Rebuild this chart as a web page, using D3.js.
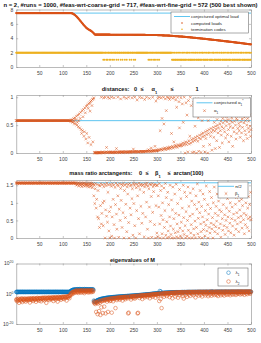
<!DOCTYPE html>
<html>
<head>
<meta charset="utf-8">
<script src="https://cdn.jsdelivr.net/npm/d3@7"></script>
<style>
  body { margin: 0; background: #fff; }
  svg text { font-family: "Liberation Sans", Arial, Helvetica, sans-serif; }
</style>
</head>
<body>
<script>
// ---- data (run index 1..500) ----
var runs = d3.range(1, 501);
var xTicks = [50, 100, 150, 200, 250, 300, 350, 400, 450, 500];

var optimalLoad = 7.5;
// computed loads, x100
var loadsX100 = [
750,750,750,750,750,750,750,750,750,750,750,750,750,750,750,750,750,750,750,750,750,750,750,750,750,
750,750,750,750,750,750,750,750,750,750,750,750,750,750,750,750,750,750,750,750,750,750,750,750,750,
750,750,750,750,750,750,750,750,750,750,750,750,750,750,750,750,750,750,750,750,750,750,750,750,750,
750,750,750,750,750,750,750,750,750,750,750,750,750,750,750,750,750,750,750,750,750,750,750,750,750,
750,750,750,750,750,750,750,750,750,750,750,750,750,750,750,750,750,750,748,746,743,740,736,732,728,
722,716,710,704,698,690,683,676,668,660,652,644,636,628,620,612,604,596,588,580,573,566,559,552,545,
540,535,530,526,522,518,514,510,506,502,498,493,487,481,475,468,460,452,450,450,450,450,450,450,450,
450,450,450,450,450,450,450,450,450,450,450,450,450,450,450,450,450,450,450,450,450,450,450,450,450,
449,449,449,449,449,449,449,449,449,449,449,449,449,449,449,449,449,449,449,449,449,449,449,449,449,
448,448,448,448,448,448,448,448,448,448,448,448,448,448,448,448,448,448,448,448,448,448,448,448,448,
447,447,447,447,447,447,447,447,447,447,447,447,447,447,447,447,447,447,447,447,447,447,447,447,447,
446,446,446,446,446,446,446,446,446,446,446,446,446,446,446,446,446,446,446,446,446,446,446,446,446,
444,444,443,443,443,442,442,442,441,441,441,440,440,440,440,439,439,439,439,438,438,438,437,437,437,
436,436,435,435,434,434,433,433,432,432,431,431,430,430,429,429,428,428,427,427,426,426,425,425,425,
424,424,423,422,422,421,421,420,419,419,418,418,417,416,416,415,415,414,413,413,412,412,411,410,410,
409,408,408,407,406,406,405,404,403,403,402,401,401,400,399,399,398,397,397,396,395,395,394,393,393,
392,391,391,390,389,388,388,387,386,385,385,384,383,382,381,381,380,379,378,378,377,376,376,375,375,
374,373,372,372,371,370,369,368,368,367,366,365,364,364,363,362,361,360,360,359,358,357,357,356,356,
355,354,353,352,352,351,350,349,348,347,347,346,345,344,343,342,342,341,340,339,338,338,337,336,336,
335,334,333,332,331,331,330,329,328,327,326,325,324,324,323,322,321,320,319,318,318,317,316,315,315
];

var terminationCode = [
2,2,2,2,2,2,2,2,2,2,2,2,2,2,2,2,2,2,2,2,2,2,2,2,2,
2,2,2,2,2,2,2,2,2,2,2,2,2,2,2,2,2,2,2,2,2,2,2,2,2,
2,2,2,2,2,2,2,2,2,2,2,2,2,2,2,2,2,2,2,2,2,2,2,2,2,
2,2,2,2,2,2,2,2,2,2,2,2,2,2,2,2,2,2,2,2,2,2,2,2,2,
2,2,2,2,2,2,2,2,2,2,2,2,2,2,2,2,2,2,2,2,2,2,2,2,2,
2,2,2,2,2,2,2,2,2,2,2,2,2,2,2,2,2,2,2,2,2,2,2,2,2,
2,2,2,2,2,2,2,2,2,2,2,2,2,2,2,2,2,2,2,2,2,2,2,2,2,
2,2,2,2,2,2,2,2,2,2,1,2,2,1,2,2,2,1,2,1,2,2,2,1,2,
2,1,2,2,2,1,2,2,1,2,2,2,2,1,2,2,2,1,2,2,2,2,1,2,2,
2,1,2,2,2,2,1,2,2,2,1,2,2,2,2,2,1,2,2,2,1,2,2,2,2,
1,2,2,1,2,2,2,2,2,2,2,2,2,2,2,2,2,2,2,2,2,2,2,2,2,
2,2,2,2,2,2,1,2,2,1,2,2,1,2,2,2,1,2,2,1,2,2,1,2,2,
2,1,2,2,1,2,2,2,2,2,2,2,2,2,2,2,2,2,2,2,2,2,2,2,2,
2,2,2,2,2,2,1,2,1,1,2,1,2,1,1,2,1,2,1,1,2,1,2,1,1,
2,1,1,2,1,2,1,1,2,1,1,2,1,2,2,1,1,2,1,2,1,1,2,1,1,
2,1,2,1,1,2,2,1,1,2,1,2,1,1,2,1,2,1,1,2,1,2,2,1,1,
2,1,1,2,1,2,1,1,2,2,1,2,1,1,2,1,1,2,1,2,2,1,1,2,1,
1,2,1,2,1,1,2,1,2,1,1,2,2,1,1,2,1,2,1,1,2,1,1,2,1,
2,1,2,1,1,2,1,2,2,1,1,2,1,2,1,1,2,1,2,1,1,2,1,2,1,
1,2,1,2,2,1,1,2,1,2,1,1,2,1,2,1,2,1,1,2,1,2,1,1,2
];

var alphaStar = 0.58;
// alpha_1, x100
var alpha1X100 = [
58,58,58,58,58,58,58,58,58,58,58,58,58,58,58,58,58,58,58,58,58,58,58,58,58,
58,58,58,58,58,58,58,58,58,58,58,58,58,58,58,58,58,58,58,58,58,58,58,58,58,
58,58,58,58,58,58,58,58,58,58,58,58,58,58,58,58,58,58,58,58,58,58,58,58,58,
58,58,58,58,58,58,58,58,58,58,58,58,58,58,58,58,58,58,58,58,58,58,58,58,58,
58,58,58,58,58,58,58,58,58,58,58,58,58,58,58,58,57,59,56,60,55,58,62,53,57,
63,52,60,66,50,55,68,47,58,70,45,62,73,42,35,76,40,65,78,30,38,81,72,25,84,
35,86,18,80,88,28,90,75,92,15,94,85,96,20,97,99,1,0,1,0,1,0,1,0,1,
1,0,1,1,0,1,100,1,2,1,0,99,1,1,100,1,2,10,1,1,100,1,2,98,1,
1,2,1,100,1,1,2,1,99,1,2,1,1,8,2,1,100,2,1,2,1,2,97,2,1,
2,2,1,2,100,2,1,2,2,98,2,1,2,2,100,2,2,1,3,2,2,99,2,2,7,
2,3,100,2,2,3,2,95,2,3,2,2,100,3,2,3,3,99,2,3,3,2,3,96,3,
3,3,100,3,4,3,6,3,98,4,3,3,9,4,3,100,4,5,3,4,12,4,93,5,4,
5,98,4,6,100,5,40,7,99,6,62,5,8,100,52,7,9,97,6,76,8,100,10,7,99,
9,96,11,8,100,35,10,12,98,9,20,100,11,14,95,12,82,10,100,15,13,92,45,12,14,
99,16,13,88,18,55,14,100,17,0,20,90,15,68,19,2,94,22,16,30,100,18,85,24,1,
20,26,91,2,22,48,28,24,0,97,30,21,63,3,27,32,86,25,1,34,58,29,36,12,80,
31,2,38,26,70,33,40,0,58,35,42,15,92,30,44,37,5,66,41,46,28,55,39,8,48,
43,22,60,50,36,45,75,10,52,40,57,32,47,18,62,54,44,85,38,58,27,49,65,56,33,
60,42,20,52,70,47,58,30,63,55,12,45,68,38,57,80,50,25,62,35,59,44,72,53,40,
48,28,66,56,36,61,46,78,22,54,64,40,58,33,70,50,26,62,44,57,38,68,48,30,42
];

// beta_1, x100
var beta1X100 = [
156,157,155,156,157,156,157,155,156,157,156,157,155,156,157,156,157,155,156,157,156,157,155,156,157,
156,157,155,156,157,156,157,155,156,157,156,157,155,156,157,156,157,155,156,157,156,157,155,156,157,
156,157,155,156,157,156,157,155,156,157,156,157,155,156,157,156,157,155,156,157,156,157,155,156,157,
156,157,155,156,157,156,157,155,156,157,156,157,155,156,157,156,157,155,156,157,156,157,155,156,157,
156,157,155,156,157,156,157,155,156,157,156,157,155,156,157,156,157,155,156,157,156,157,155,156,157,
156,155,157,150,156,152,155,157,148,156,153,155,150,157,146,155,152,156,149,155,157,147,154,151,156,
153,148,156,150,145,155,152,157,146,154,149,156,143,152,155,120,150,98,140,155,85,110,152,60,135,
55,150,30,148,92,155,40,70,152,100,35,146,105,154,0,80,149,62,156,45,130,151,20,75,0,
153,88,147,5,60,155,110,150,38,0,144,95,156,68,25,152,120,148,2,82,155,50,141,107,153,
30,149,72,156,0,135,150,58,96,154,18,145,125,152,44,0,155,85,148,66,151,112,140,8,156,
98,150,35,155,0,143,78,153,120,147,55,156,12,138,150,90,154,42,149,70,152,130,3,145,155,
60,150,102,156,25,148,0,140,88,154,47,151,118,2,155,73,146,132,150,38,153,0,92,149,14,
150,4,120,88,155,40,0,135,64,148,12,100,52,0,142,30,78,155,8,115,46,0,130,20,95,
2,60,150,34,10,108,0,80,145,25,55,0,125,15,70,153,3,40,98,18,0,65,138,28,6,
112,45,0,85,20,150,58,10,130,35,0,75,118,5,50,145,22,90,0,62,128,14,38,105,0,
68,140,26,8,95,48,0,120,30,82,154,12,56,102,2,72,135,40,18,90,0,60,125,24,45,
110,6,78,36,148,20,52,95,0,68,30,132,14,84,42,115,26,58,0,100,38,145,18,70,32,
90,48,125,12,64,105,28,80,140,40,2,75,118,55,22,95,150,35,66,10,128,50,85,30,112,
60,20,138,76,42,100,15,130,55,88,34,120,68,8,145,50,96,25,115,72,40,155,58,18,105,
80,135,45,62,110,28,92,150,52,70,12,125,38,100,65,142,30,85,55,118,20,95,60,130,52
];

// eigenvalues of M, as log10
var lambda1Log10 = [
1.2,1.1,1.3,1.2,1.2,1.2,1.1,1.3,1.2,1.2,1.2,1.1,1.3,1.2,1.2,1.2,1.1,1.3,1.2,1.2,1.2,1.1,1.3,1.2,1.2,
1.2,1.1,1.3,1.2,1.2,1.2,1.1,1.3,1.2,1.2,1.2,1.1,1.3,1.2,1.2,1.2,1.1,1.3,1.2,1.2,1.2,1.1,1.3,1.2,1.2,
1.2,1.1,1.3,1.2,1.2,1.2,1.1,1.3,1.2,1.2,1.2,1.1,1.3,1.2,1.2,1.2,1.1,1.3,1.2,1.2,1.2,1.1,1.3,1.2,1.2,
1.2,1.1,1.3,1.2,1.2,1.2,1.1,1.3,1.2,1.2,1.2,1.1,1.3,1.2,1.2,1.2,1.1,1.3,1.2,1.2,1.2,1.1,1.3,1.2,1.2,
1.2,1.2,1.2,1.2,1.2,1.2,1.2,1.2,1.2,1.2,1.2,1.2,1.2,1.2,1.2,1.5,1.8,2.0,2.2,2.4,2.5,2.6,2.7,2.6,2.8,
2.7,2.9,2.8,2.6,2.9,3.0,2.8,2.7,2.9,3.1,2.8,2.6,3.0,2.9,2.7,2.8,3.0,2.9,2.6,2.8,3.1,2.9,2.7,2.8,3.0,
2.8,2.9,2.7,3.0,2.8,2.6,2.9,3.0,2.7,2.8,2.9,2.6,2.8,3.0,2.7,-4.5,-5.0,-5.5,-5.2,-5.0,-4.8,-4.6,-4.5,-4.3,-4.2,
-4.0,-3.9,-3.8,-3.7,-3.6,-3.5,-3.4,-3.4,-3.3,-3.2,-3.2,-3.1,-3.0,-3.0,-2.9,-2.9,-2.8,-2.8,-2.7,-2.7,-2.6,-2.6,-2.6,-2.5,-2.5,
-2.5,-2.4,-2.4,-2.4,-2.3,-2.3,-2.3,-2.2,-2.2,-2.2,-2.2,-2.1,-2.1,-2.1,-2.1,-2.0,-2.0,-2.0,-2.0,-1.9,-1.9,-1.9,-1.9,-1.8,-1.8,
-1.8,-1.8,-1.7,-1.7,-1.7,-1.7,-1.6,-1.6,-1.6,-1.6,-1.6,-1.5,-1.5,-1.5,-1.5,-1.5,-1.4,-1.4,-1.4,-1.4,-1.4,-1.3,-1.3,-1.3,-1.3,
-1.3,-1.2,-1.2,-1.2,-1.1,-1.1,-1.1,-1.0,-1.0,-1.0,-1.0,-0.9,-0.9,-0.9,-0.9,-0.8,-0.8,-0.8,-0.8,-0.7,-0.7,-0.7,-0.7,-0.6,-0.6,
-0.6,-0.5,-0.5,-0.5,-0.4,-0.4,-0.4,-0.3,-0.3,-0.3,-0.2,-0.2,-0.2,-0.1,-0.1,-0.1,0,0,0,0.1,0.1,0.1,0.2,0.2,0.2,
0.2,0.3,0.3,0.3,0.4,1.8,0.4,1.6,0.4,0.5,0.5,0.5,0.5,0.5,0.6,0.6,0.6,0.6,0.6,0.7,0.7,0.7,0.7,0.7,0.7,
0.8,0.8,0.8,0.8,0.8,0.8,0.9,0.9,0.9,0.9,0.9,0.9,0.9,0.9,1.0,1.0,1.0,1.0,1.0,1.0,1.0,1.0,1.0,1.0,1.0,
1.0,1.1,1.0,1.1,1.1,1.0,1.1,1.1,1.1,1.0,1.1,1.1,1.1,1.1,1.1,1.2,1.1,1.1,1.1,1.2,1.1,1.1,1.2,1.1,1.1,
1.1,1.2,1.1,1.2,1.1,1.2,1.2,1.1,1.2,1.2,1.1,1.2,1.2,1.2,1.1,1.2,1.2,1.2,1.2,1.1,1.2,1.2,1.2,1.2,1.2,
1.2,1.2,1.2,1.2,1.2,1.2,1.2,1.2,1.2,1.2,1.2,1.2,1.2,1.2,1.2,1.2,1.6,1.2,1.2,1.2,1.2,1.2,1.2,1.2,1.2,
1.2,1.3,1.2,1.3,1.3,1.2,1.3,1.2,1.3,1.3,1.2,1.3,1.2,1.3,1.3,1.2,1.3,1.2,1.3,1.3,1.2,1.3,1.2,1.3,1.3,
1.2,1.3,1.2,1.3,1.3,1.2,1.3,1.2,1.3,1.3,1.2,1.3,1.2,1.3,1.3,1.2,1.3,1.2,1.3,1.3,1.2,1.3,1.2,1.3,1.3,
1.2,1.3,1.2,1.3,1.3,1.2,1.3,1.2,1.3,1.3,1.2,1.3,1.2,1.3,1.3,1.2,1.3,1.2,1.3,1.3,1.2,1.3,1.2,1.3,1.3
];
var lambda2Log10 = [
-4.2,-3.5,-5.0,-3.8,-4.5,-3.2,-6.0,-3.9,-4.1,-3.4,-4.8,-3.6,-3.0,-5.5,-3.8,-4.0,-3.3,-4.6,-3.7,-3.1,-5.2,-3.9,-3.5,-4.3,-3.2,
-3.6,-4.4,-3.0,-3.8,-5.8,-3.3,-3.9,-2.9,-4.2,-3.5,-3.1,-4.8,-3.4,-2.8,-3.7,-4.0,-3.2,-5.3,-3.0,-3.5,-2.7,-4.1,-3.3,-3.0,-4.6,
-3.1,-2.8,-3.6,-5.0,-2.9,-3.3,-2.6,-3.9,-3.0,-2.7,-4.4,-3.2,-2.5,-3.5,-6.0,-2.8,-3.1,-2.6,-3.8,-2.9,-2.4,-4.2,-3.0,-2.7,-3.3,
-2.5,-3.6,-2.8,-2.3,-4.8,-2.9,-2.6,-3.2,-2.2,-3.9,-2.7,-2.4,-3.0,-5.2,-2.5,-2.1,-3.4,-2.6,-2.3,-2.9,-4.0,-2.2,-2.7,-2.0,-3.1,
-2.3,-1.9,-3.5,-2.4,-2.0,-2.8,-1.8,-4.5,-2.1,-1.7,-2.6,-1.8,-1.5,-3.0,-1.6,-0.8,0.2,-0.5,0.5,1.0,-0.2,1.2,0.8,1.5,0.6,
1.8,1.2,2.2,0.9,1.6,2.4,1.3,0.5,2.0,1.7,1.1,2.3,1.9,0.7,2.1,1.5,2.5,1.0,1.8,2.2,0.4,1.6,2.0,1.3,2.4,
1.9,1.1,2.3,1.7,0.8,2.1,1.4,2.5,1.8,1.0,2.2,1.6,2.4,1.2,2.0,-5.5,-6.2,-5.0,-6.8,-5.8,-12.0,-6.0,-5.4,-13.5,-6.5,
-5.2,-11.5,-4.8,-6.0,-14.0,-4.5,-9.0,-5.0,-4.2,-12.8,-4.6,-3.9,-8.5,-4.4,-3.8,-13.0,-4.1,-3.6,-5.2,-3.5,-12.0,-4.0,-3.3,-3.7,-4.8,
-3.2,-4.5,-3.0,-12.5,-3.4,-2.9,-5.0,-3.1,-2.8,-3.6,-2.7,-9.5,-3.0,-2.6,-4.2,-2.8,-2.5,-3.3,-2.7,-2.4,-3.9,-2.6,-2.3,-3.0,-2.5,
-2.2,-4.5,-2.4,-2.1,-2.9,-2.3,-2.0,-3.6,-2.2,-2.6,-1.9,-2.1,-3.0,-13.0,-12.5,-2.0,-1.8,-2.5,-1.9,-3.8,-1.7,-2.2,-1.8,-1.6,-2.8,
-1.7,-1.5,-3.2,-1.8,-1.4,-2.4,-1.6,-1.3,-13.0,-12.6,-1.5,-1.2,-2.8,-1.4,-1.1,-1.9,-1.3,-1.0,-3.5,-1.2,-0.9,-1.6,-1.1,-2.4,-0.9,
-0.8,-1.4,-1.0,-0.7,-2.2,-0.9,-0.6,-1.2,-0.8,-3.0,-0.5,-0.7,-1.5,-0.6,-0.4,-2.0,-0.5,-0.3,-1.0,-0.4,-0.2,-2.6,-0.3,-0.1,-0.8,
-0.2,-1.5,0.0,-0.3,-4.8,0.1,-0.4,-3.5,0.2,-9.5,0.0,-1.0,0.3,0.1,-2.0,0.4,0.2,-0.6,0.4,0.3,-1.5,0.5,0.3,-0.4,0.5,
0.4,-2.2,0.6,0.5,-0.8,0.6,0.7,-3.0,0.5,0.7,-0.2,0.8,0.6,-1.8,0.8,0.7,-0.5,0.9,0.8,-2.6,0.9,0.8,-1.0,0.9,1.0,
0.9,-0.3,1.0,0.9,-1.6,1.0,-3.2,1.1,0.2,1.0,-0.8,1.1,1.0,-2.0,1.1,0.5,1.1,-0.6,1.2,1.0,-1.4,1.1,0.7,1.2,-0.2,
1.1,1.2,-1.0,1.1,0.4,1.2,-2.4,1.2,1.0,-0.4,1.2,0.8,1.3,-1.2,1.2,0.3,1.3,-0.7,1.2,1.1,-1.8,1.3,0.6,1.2,-0.1,
1.3,0.9,-1.1,1.2,1.3,-0.3,1.3,0.5,-1.6,1.3,1.1,-0.6,1.3,1.4,0.2,-1.3,1.3,1.0,-0.2,1.4,0.7,-0.9,1.3,1.2,0.0,
1.4,-0.8,1.3,0.6,-1.5,1.4,1.1,-0.1,1.4,0.8,-1.0,1.4,1.3,0.3,-0.5,1.4,1.0,-1.2,1.4,0.6,1.5,-0.4,1.3,0.9,-0.7,
1.5,1.1,-0.2,1.4,0.7,-1.0,1.5,1.2,0.1,1.4,-0.6,1.5,0.9,1.3,-0.3,1.5,1.0,-0.8,1.5,0.5,1.4,-0.1,1.5,1.2,0.3,
1.5,-0.5,1.4,0.8,1.5,-0.2,1.5,1.1,0.4,1.5,-0.7,1.4,1.0,1.5,0.2,1.5,-0.3,1.4,0.9,1.5,0.6,1.5,-0.1,1.4,1.2
];

// ---- colours / layout ----
var orange = "#D95319", blue = "#0072BD", yellow = "#EDB120", cyan = "#4DBEEE";
var axisCol = "#8c8c8c", textCol = "#404040";
var xLeft = 16.2, xRight = 251;

var svg = d3.select("body").append("svg")
  .attr("width", 261).attr("height", 343);

var x = d3.scaleLinear().domain([1, 500]).range([xLeft, xRight]);

var y1 = d3.scaleLinear().domain([0, 8]).range([67, 9.5]);
var y2 = d3.scaleLinear().domain([0, 1.04]).range([153, 95]);
var y3 = d3.scaleLinear().domain([0, 1.65]).range([238, 180]);
var y4 = d3.scaleLog().domain([1e-20, 1e20]).range([324, 263.5]);

function drawAxes(y, yTicks, yFmt) {
  var r = y.range();
  var g = svg.append("g");
  g.append("rect").attr("x", xLeft).attr("y", r[1])
    .attr("width", xRight - xLeft).attr("height", r[0] - r[1]).attr("fill", "#fff");
  g.append("g").attr("transform", "translate(0," + r[0] + ")")
    .call(d3.axisBottom(x).tickValues(xTicks).tickSizeInner(-2).tickSizeOuter(0).tickPadding(4.2));
  g.append("g").attr("transform", "translate(0," + r[1] + ")")
    .call(d3.axisTop(x).tickValues(xTicks).tickSizeInner(-2).tickSizeOuter(0).tickFormat(""));
  g.append("g").attr("transform", "translate(" + xLeft + ",0)")
    .call(d3.axisLeft(y).tickValues(yTicks).tickSizeInner(-2).tickSizeOuter(0).tickPadding(3).tickFormat(yFmt));
  g.append("g").attr("transform", "translate(" + xRight + ",0)")
    .call(d3.axisRight(y).tickValues(yTicks).tickSizeInner(-2).tickSizeOuter(0).tickFormat(""));
  g.selectAll("g").attr("font-family", null).attr("font-size", null);
  g.selectAll(".domain").attr("stroke", axisCol).attr("stroke-width", 0.6);
  g.selectAll(".tick line").attr("stroke", axisCol).attr("stroke-width", 0.5);
  g.selectAll(".tick text").attr("fill", textCol).attr("font-size", 5);
  return g;
}

var xMark = "M-1.3,-1.3L1.3,1.3M-1.3,1.3L1.3,-1.3";

// label pieces: [text, "sub" | "sup" | ""]
function richText(sel, parts, size) {
  parts.forEach(function (p) {
    var t = sel.append("tspan").text(p[0]);
    if (p[1] === "sub") t.attr("font-size", size * 0.7).attr("baseline-shift", "sub");
    if (p[1] === "sup") t.attr("font-size", size * 0.7).attr("baseline-shift", "super");
  });
}

function legend(lx, ly, w, h, items) {
  var g = svg.append("g");
  g.append("rect").attr("x", lx).attr("y", ly).attr("width", w).attr("height", h)
    .attr("fill", "#fff").attr("stroke", "#555").attr("stroke-width", 0.5);
  items.forEach(function (it) {
    if (it.kind === "line") {
      g.append("line").attr("x1", it.sx - 8).attr("x2", it.sx + 8).attr("y1", it.y).attr("y2", it.y)
        .attr("stroke", it.color).attr("stroke-width", 0.9);
    } else if (it.kind === "dot") {
      g.append("circle").attr("cx", it.sx).attr("cy", it.y).attr("r", 0.8).attr("fill", it.color);
    } else if (it.kind === "x") {
      g.append("path").attr("d", xMark).attr("transform", "translate(" + it.sx + "," + it.y + ")")
        .attr("stroke", it.color).attr("stroke-width", 0.5).attr("fill", "none");
    } else if (it.kind === "o") {
      g.append("circle").attr("cx", it.sx).attr("cy", it.y).attr("r", 1.8)
        .attr("fill", "none").attr("stroke", it.color).attr("stroke-width", 0.5);
    }
    var t = g.append("text").attr("x", it.tx).attr("y", it.y + 1.5)
      .attr("font-size", 4.4).attr("fill", "#262626");
    richText(t, it.label, 4.4);
  });
}

// ---- panel 1: loads ----
drawAxes(y1, [0, 2, 4, 6, 8], d3.format("d"));
svg.append("line").attr("x1", x(1)).attr("x2", x(500))
  .attr("y1", y1(optimalLoad)).attr("y2", y1(optimalLoad))
  .attr("stroke", cyan).attr("stroke-width", 0.9);
svg.append("g").selectAll("circle").data(loadsX100).enter().append("circle")
  .attr("cx", function (d, i) { return x(runs[i]); })
  .attr("cy", function (d) { return y1(d / 100); })
  .attr("r", 1.05).attr("fill", orange);
svg.append("g").selectAll("circle").data(terminationCode).enter().append("circle")
  .attr("cx", function (d, i) { return x(runs[i]); })
  .attr("cy", function (d) { return y1(d); })
  .attr("r", 0.95).attr("fill", yellow);
svg.append("text").attr("x", 130.5).attr("y", 7).attr("text-anchor", "middle")
  .attr("font-size", 5.6).attr("font-weight", "bold").attr("fill", "#111")
  .attr("textLength", 254).attr("lengthAdjust", "spacingAndGlyphs")
  .text("n = 2, #runs = 1000, #feas-wrt-coarse-grid = 717, #feas-wrt-fine-grid = 572 (500 best shown)");
legend(171, 12, 77.5, 21, [
  { kind: "line", color: cyan, sx: 182, tx: 191, y: 16.5, label: [["conjectured optimal load", ""]] },
  { kind: "dot", color: orange, sx: 182, tx: 191, y: 23, label: [["computed loads", ""]] },
  { kind: "dot", color: yellow, sx: 182, tx: 191, y: 29.3, label: [["termination codes", ""]] }
]);

// ---- panel 2: alpha_1 ----
drawAxes(y2, [0, 0.5, 1], function (d) { return d === 0.5 ? "0.5" : d3.format("d")(d); });
svg.append("line").attr("x1", x(1)).attr("x2", x(500))
  .attr("y1", y2(alphaStar)).attr("y2", y2(alphaStar))
  .attr("stroke", cyan).attr("stroke-width", 0.9);
svg.append("g").selectAll("path").data(alpha1X100).enter().append("path")
  .attr("d", xMark)
  .attr("transform", function (d, i) { return "translate(" + x(runs[i]) + "," + y2(d / 100) + ")"; })
  .attr("stroke", orange).attr("stroke-width", 0.5).attr("fill", "none");
var t2 = svg.append("text").attr("y", 90.5).attr("font-size", 5.6).attr("font-weight", "bold").attr("fill", "#111");
t2.append("tspan").attr("x", 101.7).text("distances:");
t2.append("tspan").attr("x", 134).text("0");
t2.append("tspan").attr("x", 140.5).text("≤");
t2.append("tspan").attr("x", 151.5).text("α");
t2.append("tspan").attr("font-size", 4).attr("baseline-shift", "sub").text("1");
t2.append("tspan").attr("x", 170.5).text("≤");
t2.append("tspan").attr("x", 195.5).text("1");
legend(193, 98, 57.5, 19, [
  { kind: "line", color: cyan, sx: 204.5, tx: 214, y: 102.8, label: [["conjectured α", ""], ["1", "sub"], ["*", "sup"]] },
  { kind: "x", color: orange, sx: 204.5, tx: 214, y: 110.7, label: [["α", ""], ["1", "sub"]] }
]);

// ---- panel 3: beta_1 ----
drawAxes(y3, [0, 0.5, 1, 1.5], function (d) { return d % 1 ? d3.format(".1f")(d) : d3.format("d")(d); });
svg.append("line").attr("x1", x(1)).attr("x2", x(500))
  .attr("y1", y3(Math.PI / 2)).attr("y2", y3(Math.PI / 2))
  .attr("stroke", cyan).attr("stroke-width", 0.9);
svg.append("g").selectAll("path").data(beta1X100).enter().append("path")
  .attr("d", xMark)
  .attr("transform", function (d, i) { return "translate(" + x(runs[i]) + "," + y3(d / 100) + ")"; })
  .attr("stroke", orange).attr("stroke-width", 0.5).attr("fill", "none");
var t3 = svg.append("text").attr("y", 174.5).attr("font-size", 5.6).attr("font-weight", "bold").attr("fill", "#111");
t3.append("tspan").attr("x", 69.3).text("mass ratio arctangents:");
t3.append("tspan").attr("x", 139).text("0");
t3.append("tspan").attr("x", 145.5).text("≤");
t3.append("tspan").attr("x", 155).text("β");
t3.append("tspan").attr("font-size", 4).attr("baseline-shift", "sub").text("1");
t3.append("tspan").attr("x", 167.5).text("≤");
t3.append("tspan").attr("x", 173.5).text("arctan(100)");
legend(218, 182, 30, 16, [
  { kind: "line", color: cyan, sx: 226, tx: 235, y: 186.3, label: [["π/2", ""]] },
  { kind: "x", color: orange, sx: 226, tx: 235, y: 193.6, label: [["β", ""], ["1", "sub"]] }
]);

// ---- panel 4: eigenvalues ----
var g4 = drawAxes(y4, [1e-20, 1, 1e20], function () { return ""; });
g4.selectAll(".ylab").data([-20, 0, 20]).enter().append("text")
  .attr("class", "ylab").attr("x", 13.5).attr("y", function (e) { return y4(Math.pow(10, e)) + 1.8; })
  .attr("text-anchor", "end").attr("font-size", 5).attr("fill", textCol)
  .each(function (e) {
    var t = d3.select(this);
    t.append("tspan").text("10");
    t.append("tspan").attr("font-size", 3.5).attr("dy", -2).text(e);
  });
svg.append("g").selectAll("circle").data(lambda1Log10).enter().append("circle")
  .attr("cx", function (d, i) { return x(runs[i]); })
  .attr("cy", function (d) { return y4(Math.pow(10, d)); })
  .attr("r", 1.8).attr("fill", "none").attr("stroke", blue).attr("stroke-width", 0.5);
svg.append("g").selectAll("circle").data(lambda2Log10).enter().append("circle")
  .attr("cx", function (d, i) { return x(runs[i]); })
  .attr("cy", function (d) { return y4(Math.pow(10, d)); })
  .attr("r", 1.8).attr("fill", "none").attr("stroke", orange).attr("stroke-width", 0.5);
svg.append("text").attr("x", 132.5).attr("y", 262).attr("text-anchor", "middle")
  .attr("font-size", 5.6).attr("font-weight", "bold").attr("fill", "#111")
  .text("eigenvalues of M");
legend(218, 268, 30, 18, [
  { kind: "o", color: blue, sx: 228.5, tx: 235.5, y: 272.7, label: [["λ", ""], ["1", "sub"]] },
  { kind: "o", color: orange, sx: 228.5, tx: 235.5, y: 281.5, label: [["λ", ""], ["2", "sub"]] }
]);
</script>
</body>
</html>
